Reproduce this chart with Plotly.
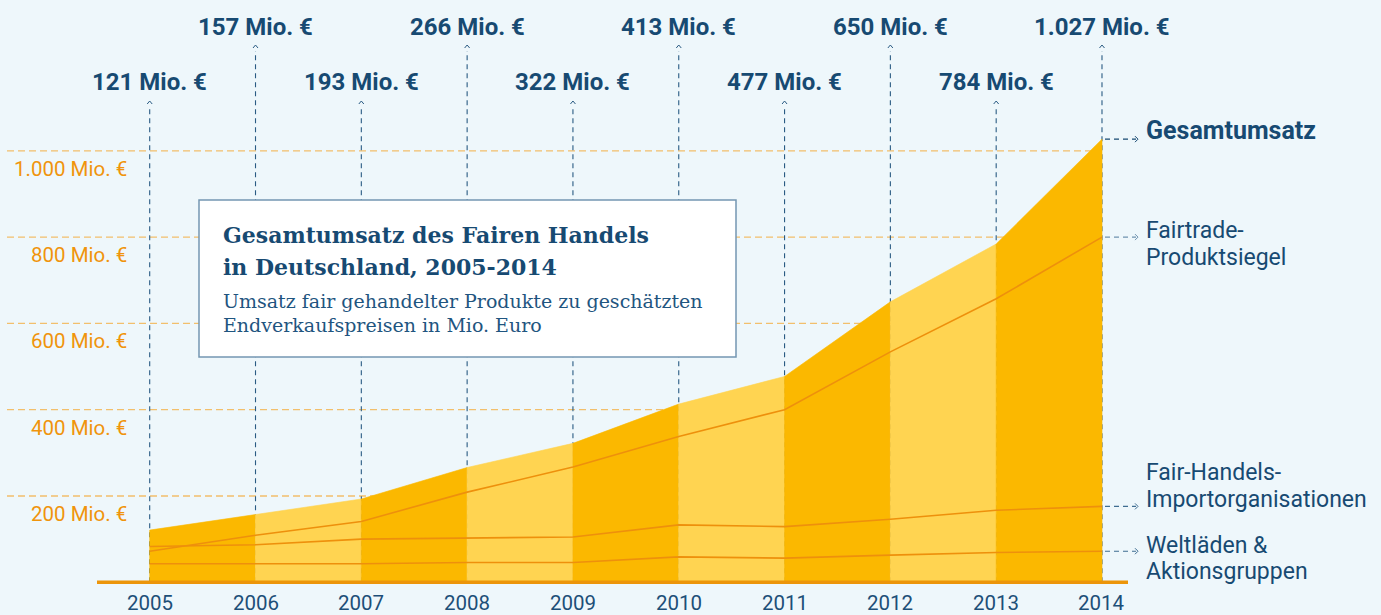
import plotly.graph_objects as go

# ---------------- data ----------------
years = [2005, 2006, 2007, 2008, 2009, 2010, 2011, 2012, 2013, 2014]
total = [121, 157, 193, 266, 322, 413, 477, 650, 784, 1027]
total_labels = ["121 Mio. €", "157 Mio. €", "193 Mio. €", "266 Mio. €", "322 Mio. €",
                "413 Mio. €", "477 Mio. €", "650 Mio. €", "784 Mio. €", "1.027 Mio. €"]
fairtrade = [72, 109, 141, 209, 267, 338, 400, 534, 657, 800]
import_org = [83, 87, 100, 102, 105, 133, 129, 146, 167, 176]
weltlaeden = [43, 43, 43, 46, 46, 59, 56, 63, 69, 72]
ytick_vals = [200, 400, 600, 800, 1000]
ytick_labels = ["200 Mio. €", "400 Mio. €", "600 Mio. €", "800 Mio. €", "1.000 Mio. €"]
series_labels = ["Gesamtumsatz", "Fairtrade-<br>Produktsiegel",
                 "Fair-Handels-<br>Importorganisationen", "Weltläden &<br>Aktionsgruppen"]
title_lines = ["Gesamtumsatz des Fairen Handels", "in Deutschland, 2005-2014"]
subtitle_lines = ["Umsatz fair gehandelter Produkte zu geschätzten", "Endverkaufspreisen in Mio. Euro"]

# ---------------- layout geometry ----------------
W, H = 1381, 615
X0PIX, XSTEP = 149.7, 105.81      # pixel of first year, pixels per year
Y0PIX, YSCALE = 582.3, 0.4315     # pixel of zero, pixels per Mio.


def px(p):
    return years[0] + (p - X0PIX) / XSTEP


def py(p):
    return (Y0PIX - p) / YSCALE


BG = "#eef7fb"
DARK = "#fbb800"
LIGHT = "#ffd451"
LINE = "#ee900c"
NAVY = "#174a72"
ORANGE_TXT = "#f0940c"
GRID = "#f2bf6c"
SANS = "Roboto"
SERIF = "DejaVu Serif"

fig = go.Figure()

# alternating bands of the total area
for i in range(len(years) - 1):
    fig.add_trace(go.Scatter(
        x=[years[i], years[i + 1], years[i + 1], years[i], years[i]],
        y=[0, 0, total[i + 1], total[i], 0],
        fill="toself", fillcolor=DARK if i % 2 == 0 else LIGHT,
        mode="lines", line=dict(width=0.6, color=DARK if i % 2 == 0 else LIGHT),
        hoverinfo="skip", showlegend=False))

# component lines
for s in (fairtrade, import_org, weltlaeden):
    fig.add_trace(go.Scatter(x=years, y=s, mode="lines",
                             line=dict(color=LINE, width=1.6),
                             hoverinfo="skip", showlegend=False))

shapes = []
# horizontal gridlines
for v in ytick_vals:
    shapes.append(dict(type="line", xref="x", yref="y", x0=px(7), x1=years[-1], y0=v, y1=v,
                       line=dict(color=GRID, width=1.3, dash="7px,4px"), layer="below"))

# vertical dashed leader lines + carets
tip_odd, tip_even = py(101), py(45)
caret_x, caret_y = [], []
for i, yr in enumerate(years):
    tip = tip_odd if i % 2 == 0 else tip_even
    shapes.append(dict(type="line", xref="x", yref="y", x0=yr, x1=yr, y0=0, y1=tip - 6 / YSCALE,
                       line=dict(color="#2a5b83", width=1.1, dash="5px,4px"), layer="below"))
    caret_x += [yr - 2.5 / XSTEP, yr, yr + 2.5 / XSTEP, None]
    caret_y += [tip - 3 / YSCALE, tip, tip - 3 / YSCALE, None]

# right-hand leader arrows
ends = [total[-1], fairtrade[-1], import_org[-1], weltlaeden[-1]]
arrow_cols = [NAVY, "#6f93b0", "#3f6d91", "#3f6d91"]
ax0, ax1 = px(1105), px(1138)
for v, c in zip(ends, arrow_cols):
    shapes.append(dict(type="line", xref="x", yref="y", x0=ax0, x1=ax1 - 2 / XSTEP, y0=v, y1=v,
                       line=dict(color=c, width=1.1, dash="5px,4px"), layer="above"))
    fig.add_trace(go.Scatter(x=[ax1 - 3 / XSTEP, ax1, ax1 - 3 / XSTEP],
                             y=[v + 3 / YSCALE, v, v - 3 / YSCALE], mode="lines",
                             line=dict(color=c, width=1), hoverinfo="skip", showlegend=False))

fig.add_trace(go.Scatter(x=caret_x, y=caret_y, mode="lines", line=dict(color="#2a5b83", width=1),
                         hoverinfo="skip", showlegend=False))

# baseline axis
shapes.append(dict(type="line", xref="x", yref="y", x0=px(97), x1=px(1128), y0=0, y1=0,
                   line=dict(color="#ec950a", width=3.5), layer="above"))

# title box
shapes.append(dict(type="rect", xref="x", yref="y", x0=px(199), x1=px(736), y0=py(357), y1=py(200),
                   fillcolor="white", line=dict(color="#7497b2", width=1.5), layer="above"))

ann = []
# top value labels
for i, (yr, lab) in enumerate(zip(years, total_labels)):
    ann.append(dict(x=yr, y=py(82) if i % 2 == 0 else py(27), text=lab, showarrow=False,
                    xanchor="center", yanchor="middle",
                    font=dict(family=SANS, size=24, color=NAVY, weight="bold")))
# year labels
for yr in years:
    ann.append(dict(x=yr, y=py(603), text=str(yr), showarrow=False, xanchor="center", yanchor="middle",
                    borderpad=0, font=dict(family=SANS, size=20.5, color="#1d4f78")))
# y tick labels
for v, lab in zip(ytick_vals, ytick_labels):
    ann.append(dict(x=px(129), y=v, yshift=-18, text=lab, showarrow=False, xanchor="right",
                    yanchor="middle", font=dict(family=SANS, size=20.5, color=ORANGE_TXT)))

# right series labels (line positions relative to arrow)
lx = px(1144)
label_specs = [
    (ends[0], [series_labels[0]], [9], True),
    (ends[1], series_labels[1].split("<br>"), [7, -20], False),
    (ends[2], series_labels[2].split("<br>"), [34, 7], False),
    (ends[3], series_labels[3].split("<br>"), [6, -20], False),
]
for v, lines, shifts, bold in label_specs:
    for t, sh in zip(lines, shifts):
        ann.append(dict(x=lx, y=v, yshift=sh, text=t, showarrow=False, xanchor="left", yanchor="middle",
                        font=dict(family=SANS, size=25 if bold else 23, color=NAVY,
                                  weight="bold" if bold else "normal")))

# title texts
tx = px(221)
for t, p in zip(title_lines, [235, 267]):
    ann.append(dict(x=tx, y=py(p), text=t, showarrow=False, xanchor="left", yanchor="middle",
                    font=dict(family=SERIF, size=22, color=NAVY, weight="bold")))
for t, p in zip(subtitle_lines, [301, 325]):
    ann.append(dict(x=tx, y=py(p), text=t, showarrow=False, xanchor="left", yanchor="middle",
                    font=dict(family=SERIF, size=19, color="#1f5580")))

fig.update_layout(
    width=W, height=H, autosize=False,
    margin=dict(l=0, r=0, t=0, b=0),
    paper_bgcolor=BG, plot_bgcolor=BG,
    xaxis=dict(range=[px(0), px(W)], visible=False, fixedrange=True),
    yaxis=dict(range=[py(H), py(0)], visible=False, fixedrange=True),
    shapes=shapes, annotations=ann, showlegend=False,
)

fig.write_html("out.html", config={"displayModeBar": False},
               post_script="document.body.style.margin='0';document.body.style.overflow='hidden';"
                           "document.body.style.background='" + BG + "';")
